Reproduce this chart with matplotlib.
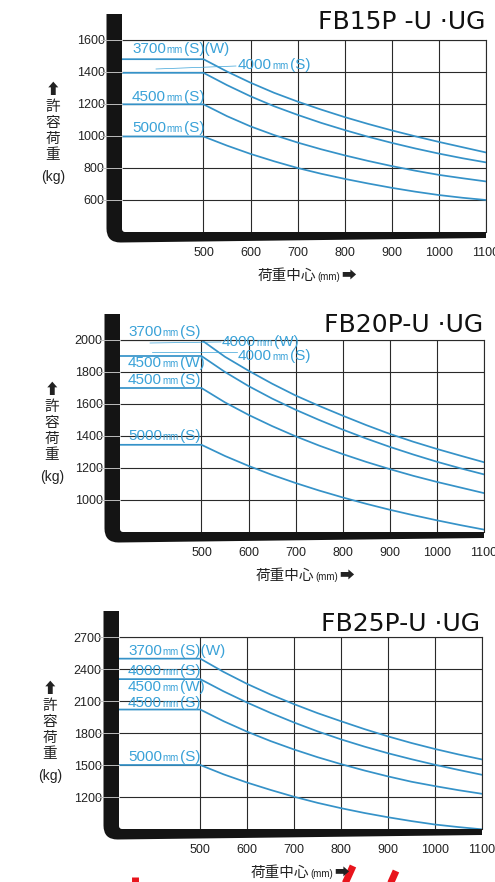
import numpy as np
import matplotlib
matplotlib.use("Agg")
import matplotlib.pyplot as plt
from matplotlib.path import Path
from matplotlib.patches import PathPatch
from matplotlib.lines import Line2D
from matplotlib.transforms import blended_transform_factory
from matplotlib.offsetbox import TextArea, HPacker, AnnotationBbox

plt.rcParams['font.family'] = ['Liberation Sans', 'Noto Sans CJK JP', 'DejaVu Sans']

W, H = 495, 882

load_centre = [500, 550, 600, 650, 700, 750, 800, 850, 900, 950, 1000, 1050, 1100]
x_ticks = [500, 600, 700, 800, 900, 1000, 1100]

# FB15P-U·UG allowable load (kg)
fb15_3700sw = [1480, 1403, 1333, 1270, 1215, 1165, 1118, 1075, 1035, 998, 963, 930, 897]
fb15_4000s = [1395, 1318, 1248, 1186, 1132, 1082, 1037, 995, 957, 922, 890, 861, 835]
fb15_4500s = [1198, 1124, 1060, 1006, 959, 917, 879, 844, 812, 783, 757, 736, 716]
fb15_5000s = [997, 940, 888, 842, 800, 764, 732, 703, 676, 652, 631, 614, 600]
fb15_yticks = [600, 800, 1000, 1200, 1400, 1600]

# FB20P-U·UG
fb20_3700s = [2000, 1895, 1808, 1727, 1653, 1588, 1527, 1468, 1413, 1364, 1319, 1277, 1236]
fb20_4500w = [1900, 1800, 1712, 1634, 1564, 1500, 1440, 1384, 1332, 1284, 1239, 1198, 1160]
fb20_4500s = [1700, 1610, 1532, 1462, 1398, 1340, 1287, 1238, 1193, 1151, 1113, 1078, 1043]
fb20_5000s = [1345, 1275, 1213, 1157, 1106, 1059, 1016, 976, 939, 905, 873, 843, 815]
fb20_yticks = [1000, 1200, 1400, 1600, 1800, 2000]

# FB25P-U·UG
fb25_3700sw = [2497, 2372, 2260, 2160, 2070, 1986, 1910, 1836, 1768, 1706, 1650, 1599, 1552]
fb25_4000s_4500w = [2305, 2190, 2085, 1988, 1898, 1815, 1740, 1672, 1610, 1554, 1502, 1454, 1408]
fb25_4500s = [2020, 1910, 1812, 1724, 1645, 1573, 1508, 1448, 1393, 1343, 1302, 1264, 1230]
fb25_5000s = [1500, 1412, 1335, 1266, 1202, 1145, 1095, 1050, 1010, 974, 942, 918, 897]
fb25_yticks = [1200, 1500, 1800, 2100, 2400, 2700]

CURVE = '#3592c8'
LABEL = '#3aa2d8'
GRID = '#2a2a2a'
XLEFT = 327

# layout in pixels (left, top, right, bottom of grid area), label spots
panels = [
    dict(title="FB15P -U ·UG", title_xy=(485, 29), box=(122, 40, 486, 232), bar_top=14,
         ylim=(400, 1600), yticks=fb15_yticks,
         series=[fb15_3700sw, fb15_4000s, fb15_4500s, fb15_5000s],
         labels=[("3700", "(S)(W)", 132, 49), ("4000", "(S)", 238, 65),
                 ("4500", "(S)", 132, 97), ("5000", "(S)", 132, 128)],
         leaders=[(236, 66, 156, 69)],
         ylab=(53, 90), xlab=(307, 276)),
    dict(title="FB20P-U ·UG", title_xy=(483, 332), box=(120, 340, 484, 532), bar_top=314,
         ylim=(800, 2000), yticks=fb20_yticks,
         series=[fb20_3700s, fb20_4500w, fb20_4500s, fb20_5000s],
         labels=[("3700", "(S)", 128, 332), ("4000", "(W)", 222, 342), ("4000", "(S)", 238, 356),
                 ("4500", "(W)", 128, 363), ("4500", "(S)", 128, 380), ("5000", "(S)", 128, 436)],
         leaders=[(221, 342, 150, 343), (237, 352, 152, 352)],
         ylab=(52, 390), xlab=(305, 576)),
    dict(title="FB25P-U ·UG", title_xy=(480, 631), box=(119, 637, 482, 829), bar_top=611,
         ylim=(900, 2700), yticks=fb25_yticks,
         series=[fb25_3700sw, fb25_4000s_4500w, fb25_4500s, fb25_5000s],
         labels=[("3700", "(S)(W)", 128, 651), ("4000", "(S)", 128, 671),
                 ("4500", "(W)", 128, 687), ("4500", "(S)", 128, 703), ("5000", "(S)", 128, 757)],
         leaders=[],
         ylab=(50, 689), xlab=(300, 873)),
]

ylab_parts = ["⬆", "許", "容", "荷", "重", "(kg)"]
ylab_steps = [0, 17, 33, 49, 65, 87]


def fx(x):
    return x / W


def fy(y):
    return 1 - y / H


def bar_patch(l, tb, r, b):
    bw, bhl, bhr, rad = 15.5, 10.5, 6, 14
    xo = l - bw
    pts = [(xo, tb), (xo, b + bhl - rad), (xo, b + bhl), (xo + rad, b + bhl),
           (r, b + bhr), (r, b), (l + 3, b), (l, b), (l, b - 3), (l, tb), (xo, tb)]
    codes = [Path.MOVETO, Path.LINETO, Path.CURVE3, Path.CURVE3, Path.LINETO, Path.LINETO,
             Path.LINETO, Path.CURVE3, Path.CURVE3, Path.LINETO, Path.CLOSEPOLY]
    verts = [(fx(a), fy(c)) for a, c in pts]
    return PathPatch(Path(verts, codes), facecolor='#141414', edgecolor='none',
                     transform=fig.transFigure, zorder=2)


fig = plt.figure(figsize=(W / 100, H / 100), dpi=100)
fig.patch.set_facecolor('white')

for p in panels:
    l, t, r, b = p['box']
    ax = fig.add_axes([fx(l), fy(b), (r - l) / W, (b - t) / H])
    ax.set_xlim(XLEFT, 1100)
    ax.set_ylim(*p['ylim'])
    ax.set_xticks(x_ticks)
    ax.set_yticks(p['yticks'])
    ax.grid(True, color=GRID, lw=0.8)
    ax.set_axisbelow(True)
    for s in ['left', 'bottom']:
        ax.spines[s].set_visible(False)
    for s in ['right', 'top']:
        ax.spines[s].set_color(GRID)
        ax.spines[s].set_linewidth(0.8)
    ax.tick_params(axis='both', length=0, labelsize=9, colors='#222222')
    ax.tick_params(axis='x', pad=10.5)
    ax.tick_params(axis='y', pad=12.5)

    for vals in p['series']:
        xs = [XLEFT] + load_centre
        ys = [vals[0]] + vals
        ax.plot(xs, ys, color=CURVE, lw=1.25, solid_joinstyle='round')

    fig.add_artist(bar_patch(l, p['bar_top'], r, b))

    # light notches where the ticks cross the bar
    bt = blended_transform_factory(fig.transFigure, ax.transData)
    for v in p['yticks']:
        fig.add_artist(Line2D([fx(l - 21), fx(l)], [v, v], transform=bt,
                              color='#bdbdbd', lw=0.7, zorder=3))

    for num, tail, x0, y0 in p['labels']:
        parts = [TextArea(num, textprops=dict(color=LABEL, fontsize=11)),
                 TextArea("mm", textprops=dict(color=LABEL, fontsize=7)),
                 TextArea(tail, textprops=dict(color=LABEL, fontsize=11))]
        box = HPacker(children=parts, align="baseline", pad=0, sep=0.5)
        fig.add_artist(AnnotationBbox(box, (fx(x0), fy(y0)), xycoords='figure fraction',
                                      box_alignment=(0, 0.5), frameon=False, pad=0))

    for x0, y0, x1, y1 in p['leaders']:
        fig.add_artist(Line2D([fx(x0), fx(x1)], [fy(y0), fy(y1)], color=LABEL, lw=0.5))

    fig.text(fx(p['title_xy'][0]), fy(p['title_xy'][1]), p['title'], ha='right',
             va='baseline', fontsize=18, color='#111111', family='DejaVu Sans')

    yx, yy = p['ylab']
    for part, step in zip(ylab_parts, ylab_steps):
        fs = 10 if part == "(kg)" else 10.5
        fig.text(fx(yx), fy(yy + step), part, ha='center', va='center',
                 fontsize=fs, color='#222222')

    xl = [TextArea("荷重中心", textprops=dict(color='#222222', fontsize=10.5)),
          TextArea("(mm)", textprops=dict(color='#222222', fontsize=7)),
          TextArea("➡", textprops=dict(color='#222222', fontsize=10.5))]
    xbox = HPacker(children=xl, align="baseline", pad=0, sep=1)
    fig.add_artist(AnnotationBbox(xbox, (fx(p['xlab'][0]), fy(p['xlab'][1])),
                                  xycoords='figure fraction', box_alignment=(0.5, 0.5),
                                  frameon=False, pad=0))

# red marks cut off at the bottom edge of the scan
for x0, y0, x1, y1 in [(135, 877, 135, 890), (353, 866, 343, 888), (396, 871, 388, 889)]:
    fig.add_artist(Line2D([fx(x0), fx(x1)], [fy(y0), fy(y1)], color='#e8141c', lw=5,
                          solid_capstyle='butt'))

fig.savefig('out.png', dpi=100)
